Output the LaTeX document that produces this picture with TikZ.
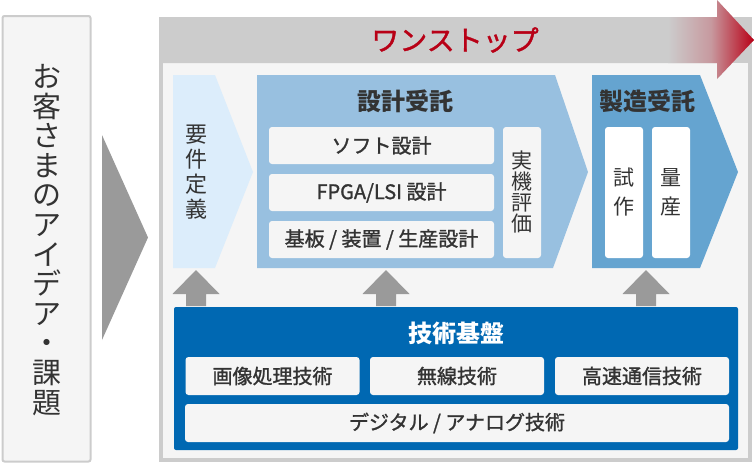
\documentclass[tikz,border=0pt]{standalone}
\usepackage{fontspec}
\setmainfont{Noto Sans CJK JP}
\newfontfamily\jpmid[FakeBold=1.3]{Noto Sans CJK JP}
\usepackage{tikz}
\usetikzlibrary{positioning}
\definecolor{paleGray}{HTML}{F5F5F5}
\definecolor{frameGray}{HTML}{CCCCCC}
\definecolor{arrowGray}{HTML}{9A9A9A}
\definecolor{textGray}{HTML}{333333}
\definecolor{reqBlue}{HTML}{DCEDFB}
\definecolor{designBlue}{HTML}{98C0E0}
\definecolor{mfgBlue}{HTML}{65A4D0}
\definecolor{techBlue}{HTML}{0068B2}
\definecolor{oneRed}{HTML}{B80016}

\begin{document}
\begin{tikzpicture}[x=1pt, y=-1pt,
  box/.style={fill=paleGray, rounded corners=3pt, inner sep=0pt, outer sep=0pt,
    text=textGray, font=\jpmid\fontsize{20}{24}\selectfont},
  vbox/.style={box, align=center, minimum width=38, minimum height=131,
    font=\fontsize{21}{21}\selectfont},
  title/.style={text=textGray, font=\bfseries\fontsize{24}{26}\selectfont}]
  \useasboundingbox (0,0) rectangle (756,464);
  % customer side
  \draw[frameGray, line width=2pt, fill=paleGray, rounded corners=2pt] (2.5,16) rectangle (90.5,461.5);
  \node[text=textGray, align=center, font=\fontsize{29}{29.6}\selectfont] (idea) at (47,240)
    {お\\客\\さ\\ま\\の\\ア\\イ\\デ\\ア\\・\\課\\題};
  \fill[arrowGray] (102,135) -- (148,237.5) -- (102,340) -- cycle;
  % one-stop frame
  \fill[frameGray] (159,17) rectangle (752,462);
  \fill[paleGray] (163,63) rectangle (748,458);
  \fill[frameGray] (159,17) -- (717,17) -- (717,0) -- (754,40) -- (717,79) -- (717,63) -- (159,63) -- cycle;
  \begin{scope}
    \clip (159,17) -- (717,17) -- (717,0) -- (754,40) -- (717,79) -- (717,63) -- (159,63) -- cycle;
    \shade[left color=frameGray, right color=oneRed, middle color=oneRed!25!frameGray] (668,0) rectangle (754,79);
  \end{scope}
  \node[text=oneRed, font=\jpmid\fontsize{28}{30}\selectfont] (onestop) at (455,40) {ワンストップ};
  % phases
  \fill[reqBlue] (173,75) -- (215,75) -- (253,172) -- (215,268) -- (173,268) -- cycle;
  \node[text=textGray, align=center, font=\fontsize{22}{25}\selectfont] (req) at (196,172) {要\\件\\定\\義};
  \fill[designBlue] (257,75) -- (555,75) -- (588,172) -- (553,268) -- (257,268) -- cycle;
  \node[title] (design) at (405,101) {設計受託};
  \node[box, minimum width=225, minimum height=37] (soft) at (381.5,145.5) {ソフト設計};
  \node[box, minimum width=225, minimum height=37] (fpga) at (381.5,192.5) {FPGA/LSI 設計};
  \node[box, minimum width=225, minimum height=37] (board) at (381.5,239.5) {基板 / 装置 / 生産設計};
  \node[vbox] (eval) at (522,192.5) {実\\機\\評\\価};
  \fill[mfgBlue] (592,75) -- (700,75) -- (738,172) -- (700,268) -- (592,268) -- cycle;
  \node[title] (mfg) at (647,101) {製造受託};
  \node[vbox, fill=white, font=\fontsize{21}{29}\selectfont] (proto) at (624,192.5) {試\\作};
  \node[vbox, fill=white, font=\fontsize{21}{29}\selectfont] (mass) at (671,192.5) {量\\産};
  % up arrows
  \foreach \x in {196,386,646}
    \fill[arrowGray] (\x-10,306) -- (\x-10,294) -- (\x-23.5,294) -- (\x,270)
      -- (\x+23.5,294) -- (\x+10,294) -- (\x+10,306) -- cycle;
  % technology base
  \fill[techBlue, rounded corners=2pt] (174,307) rectangle (738,450);
  \node[title, text=white] (tech) at (456,333) {技術基盤};
  \foreach \n/\x/\t in {image/272.5/画像処理技術, radio/457/無線技術, speed/642/高速通信技術}
    \node[box, minimum width=174, minimum height=38] (\n) at (\x,376) {\t};
  \node[box, minimum width=544, minimum height=38] (analog) at (457,423) {デジタル / アナログ技術};
\end{tikzpicture}
\end{document}
